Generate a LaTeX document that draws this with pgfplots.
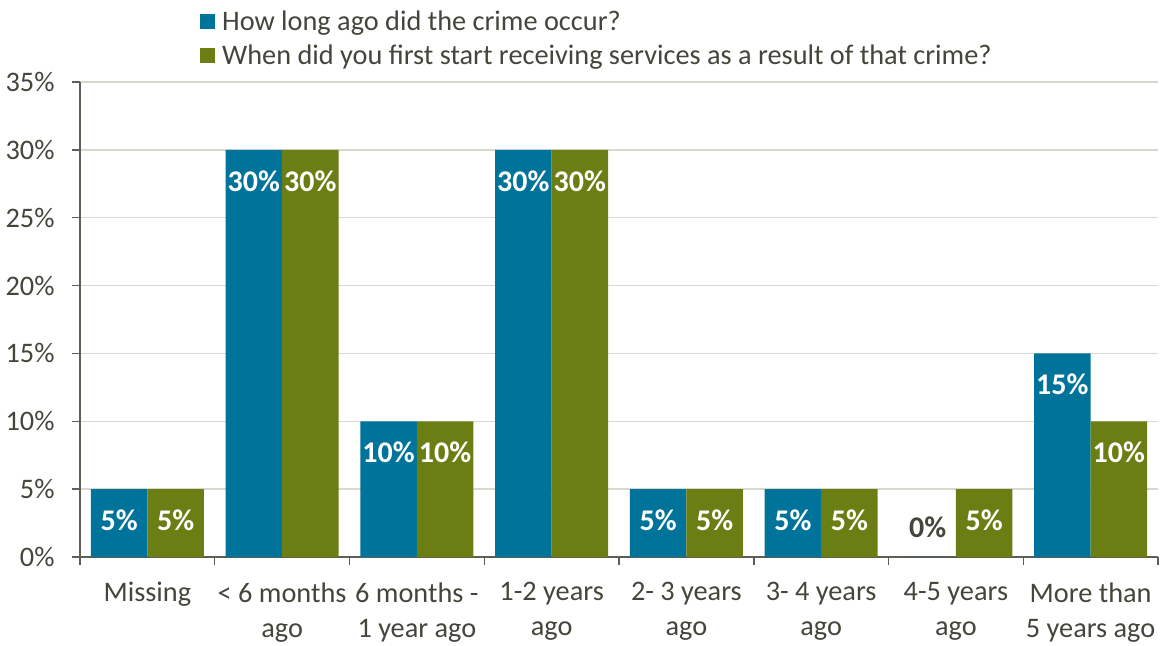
\documentclass[border=0pt]{standalone}
\usepackage{fontspec}
\setmainfont{Carlito}
\usepackage{pgfplots}
\pgfplotsset{compat=1.18}
\definecolor{cblue}{HTML}{00739A}
\definecolor{cgreen}{HTML}{6B7E14}
\definecolor{textcol}{HTML}{45453B}
\definecolor{axiscol}{HTML}{5E5E54}
\definecolor{gridcol}{HTML}{DAD8CE}
\begin{document}
\begin{tikzpicture}
\begin{axis}[
  name=ax,
  scale only axis, width=1078bp, height=475bp,
  xmin=-0.5, xmax=7.5, ymin=0, ymax=35,
  ybar=0pt, bar width=56.5bp,
  axis x line*=bottom, axis y line*=left,
  axis line style={axiscol, line width=1.5bp},
  xtick={0,1,2,3,4,5,6,7},
  xticklabels={Missing,{< 6 months\\ago},{6 months -\\1 year ago},{1-2 years\\ago},{2- 3 years\\ago},{3- 4 years\\ago},{4-5 years\\ago},{More than\\5 years ago}},
  minor xtick={-0.5,0.5,1.5,2.5,3.5,4.5,5.5,6.5,7.5},
  major x tick style={draw=none},
  minor x tick style={axiscol, line width=1.5bp},
  ytick={0,5,10,15,20,25,30,35},
  yticklabels={0\%,5\%,10\%,15\%,20\%,25\%,30\%,35\%},
  y tick style={axiscol, line width=1.5bp},
  tick align=outside,
  major tick length=8bp, minor tick length=8bp,
  ymajorgrids, grid style={gridcol, line width=1.5bp},
  xticklabel style={font=\fontsize{28.3bp}{35bp}\selectfont, text=textcol, align=center, anchor=north, yshift=-14bp},
  yticklabel style={font=\fontsize{28.3bp}{32bp}\selectfont, text=textcol, xshift=-14bp},
  legend style={draw=none, fill=none, at={(axis description cs:0.1113,1)}, anchor=south west, yshift=14bp,
    font=\fontsize{28.3bp}{32bp}\selectfont, text=textcol, inner sep=0pt, row sep=9bp},
  legend cell align=left,
  legend image code/.code={\fill[#1] (0bp,-7.5bp) rectangle (15bp,7.5bp);},
  /tikz/every odd column/.append style={column sep=5bp},
  visualization depends on={rawy \as \rawy},
  nodes near coords={\ifdim\rawy pt<0.5pt \textcolor{textcol}{0\%}\else\pgfmathprintnumber[assume math mode=true,fixed,precision=0]{\rawy}\%\fi},
  every node near coord/.append style={font=\fontsize{30bp}{32bp}\selectfont\bfseries, text=white, anchor=center,
    yshift={ifthenelse(\rawy<0.5,30,-31)*1bp}},
]
\addplot[fill=cblue, draw=none] coordinates {(0,5) (1,30) (2,10) (3,30) (4,5) (5,5) (6,0) (7,15)};
\addplot[fill=cgreen, draw=none] coordinates {(0,5) (1,30) (2,10) (3,30) (4,5) (5,5) (6,5) (7,10)};
\legend{How long ago did the crime occur?,When did you first start receiving services as a result of that crime?}
\end{axis}
\pgfresetboundingbox
\path[use as bounding box] ([xshift=-80bp,yshift=-89bp]ax.south west) rectangle ([xshift=1083bp,yshift=557bp]ax.south west);
\end{tikzpicture}
\end{document}
